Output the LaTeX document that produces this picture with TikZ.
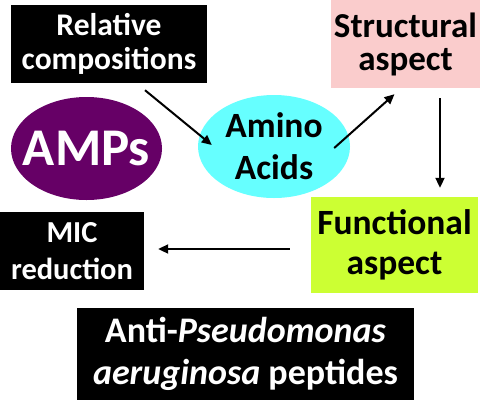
\documentclass[tikz,border=0pt]{standalone}
\usepackage{fontspec}
\setmainfont{Carlito}
\usetikzlibrary{arrows.meta,shapes}
\definecolor{ampspurple}{RGB}{102,0,102}
\definecolor{aminocyan}{RGB}{102,255,255}
\definecolor{structpink}{RGB}{250,204,204}
\definecolor{funclime}{RGB}{204,255,51}
\newcommand{\fsz}[2]{\fontsize{#1}{#2}\selectfont\bfseries}
\tikzstyle{arrow} = [line width=2pt,-{Triangle[length=10pt,width=9pt]},black]
\tikzstyle{txt} = [align=center, inner sep=0pt]
\tikzstyle{darkbox} = [txt, rectangle, fill=black, text=white]
\tikzstyle{colbox} = [txt, rectangle, text=black]
\tikzstyle{blob} = [ellipse, inner sep=0pt]

\begin{document}
\begin{tikzpicture}[x=1pt, y=-1pt]
\useasboundingbox (0,0) rectangle (480,400);
% Boxes
\node[darkbox, minimum width=196pt, minimum height=78pt, font=\fsz{31.5}{34}] (rel) at (109,44) {Relative\\compositions};
\node[colbox, fill=structpink, minimum width=149pt, minimum height=88pt, font=\fsz{35}{33}] (struct) at (405.5,44) {Structural\\aspect};
\node[colbox, fill=funclime, minimum width=167pt, minimum height=96pt, font=\fsz{35.5}{40}] (func) at (394.5,245) {Functional\\aspect};
\node[darkbox, minimum width=144pt, minimum height=78pt, font=\fsz{30.5}{37}] (mic) at (72,251) {MIC\\reduction};
\node[darkbox, minimum width=337pt, minimum height=92pt, font=\fsz{36}{42}] (anti) at (245.5,354) {Anti-\textit{Pseudomonas}\\\textit{aeruginosa} peptides};

% Ellipses
\node[blob, fill=ampspurple, minimum width=151pt, minimum height=103pt] (amps) at (86.5,148.5) {};
\node[txt, text=white, font=\fsz{53}{55}] (ampstxt) at (amps) {AMPs};
\node[blob, fill=aminocyan, minimum width=152pt, minimum height=103pt] (amino) at (274,146.5) {};
\node[txt, font=\fsz{35.5}{42}] (aminotxt) at (amino) {Amino\\Acids};

% Arrows
\draw[arrow] ([xshift=36pt,yshift=-7pt]rel.south) -- ([xshift=14pt,yshift=1.5pt]amino.west);
\draw[arrow] ([xshift=-16pt,yshift=-1.5pt]amino.east) -- ([xshift=-11pt,yshift=-6pt]struct.south);
\draw[arrow] ([xshift=34.5pt,yshift=-10pt]struct.south) -- ([xshift=45.5pt,yshift=9pt]func.north);
\draw[arrow] ([xshift=-21pt,yshift=-4pt]func.west) -- ([xshift=14pt,yshift=2pt]mic.east);
\end{tikzpicture}
\end{document}
